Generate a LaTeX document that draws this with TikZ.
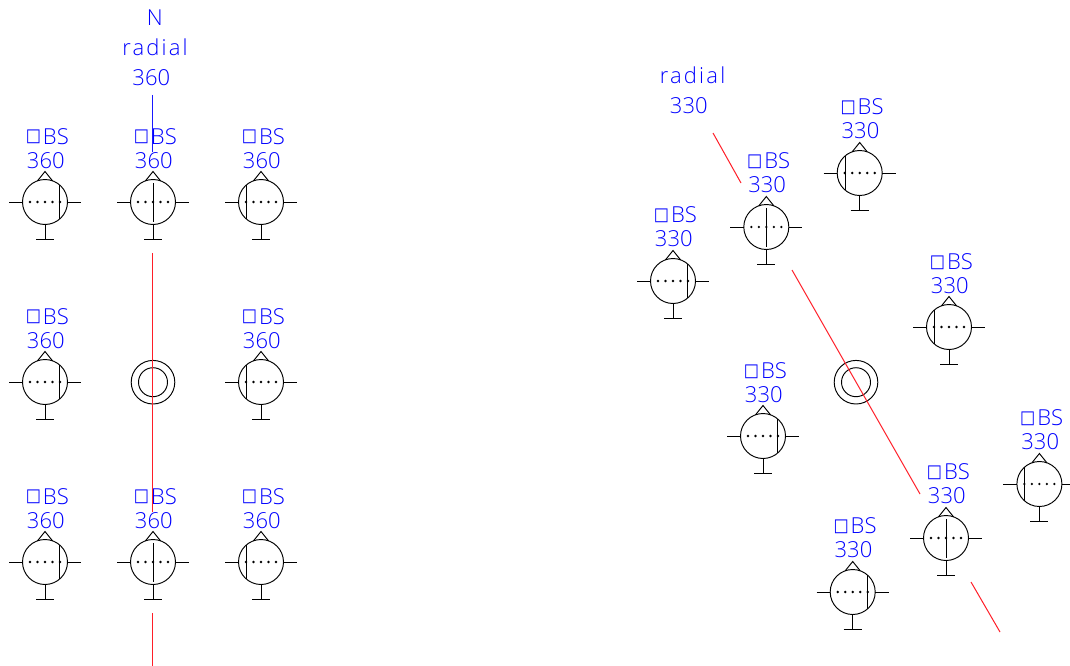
\documentclass[tikz,border=0pt]{standalone}
\usepackage{fontspec}
\usepackage{graphicx}
\setmainfont{Open Sans}[UprightFont=* Light]
\newfontfamily\boxfont{DejaVu Sans}
\definecolor{cadblue}{RGB}{0,0,255}
\definecolor{cadline}{RGB}{25,25,255}
\definecolor{cadred}{RGB}{255,30,40}
\newcommand{\boxglyph}{\raisebox{2.2pt}{\scalebox{.73}[.82]{\boxfont □}}}
\tikzset{
  wire/.style={draw=black,line width=0.95pt},
  redline/.style={draw=cadred,line width=1pt},
  redaxis/.style={draw=cadred,line width=1.5pt},
  blueline/.style={draw=cadline,line width=1.5pt},
  lbl/.style={text=cadblue,font=\fontsize{22}{24}\selectfont,inner sep=0pt,anchor=base},
  lblw/.style={lbl,font=\fontsize{22}{24}\selectfont\addfontfeature{LetterSpace=10}},
}
% #1 name, #2 x, #3 y, #4 chord offset, #5 number, #6 baseline offset of the number
\newcommand{\sym}[6]{%
  \coordinate (#1) at (#2,#3);
  \node[lbl] (#1t) at ([shift={(2.3,#6-24)}]#1) {\boxglyph\kern2pt BS};
  \node[lbl] (#1n) at ([shift={(0.8,#6)}]#1) {#5};
  \draw[wire] (#1) circle[radius=22.5];
  \draw[wire] ([shift={(-36,0)}]#1) -- ([shift={(-22.5,0)}]#1);
  \draw[wire] ([shift={(22.5,0)}]#1) -- ([shift={(36,0)}]#1);
  \draw[wire] ([shift={(0,22.5)}]#1) -- ([shift={(0,37)}]#1);
  \draw[wire] ([shift={(-9,37)}]#1) -- ([shift={(9,37)}]#1);
  \draw[wire] ([shift={(-7.5,-21.2)}]#1) -- ([shift={(0,-30.5)}]#1) -- ([shift={(7.5,-21.2)}]#1);
  \foreach \d in {-15,-7.5,0,7.5,15}
    \fill ([shift={(\d,0)}]#1) circle[radius=1.3];
  \pgfmathsetmacro{\hh}{sqrt(22.5*22.5-(#4)*(#4))}
  \ifdim #4pt=0pt
    \draw[wire] ([shift={(0,-19)}]#1) -- ([shift={(0,20)}]#1);
  \else
    \draw[wire] ([shift={(#4,-\hh)}]#1) -- ([shift={(#4,\hh)}]#1);
  \fi
}
\begin{document}
\begin{tikzpicture}[x=1pt,y=-1pt]
\useasboundingbox (0,0) rectangle (1070,666);
% left group
\sym{la}{45}{202}{14.5}{360}{-33.9}
\sym{lb}{153}{202}{0}{360}{-33.9}
\sym{lc}{261}{202}{-14.5}{360}{-33.9}
\sym{ld}{45}{382}{14.5}{360}{-33.9}
\sym{le}{261}{382}{-14.5}{360}{-33.9}
\sym{lf}{45}{562}{14.5}{360}{-33.9}
\sym{lg}{153}{562}{0}{360}{-33.9}
\sym{lh}{261}{562}{-14.5}{360}{-33.9}
\coordinate (lcentre) at (153,382.2);
\draw[wire] (lcentre) circle[radius=21.8] (lcentre) circle[radius=14.5];
\node[lbl] (ln) at (154.7,26) {N};
\node[lblw] (lr) at (155,56) {radial};
\node[lbl] (l3) at (151.3,86) {360};
\coordinate (lb1) at (152.7,95); \coordinate (lb2) at (152.7,152);
\draw[blueline] (lb1) -- (lb2);
\coordinate (lr1) at (152.7,253); \coordinate (lr2) at (152.7,512);
\coordinate (lr3) at (152.7,613); \coordinate (lr4) at (152.7,666);
\draw[redaxis] (lr1) -- (lr2);
\draw[redaxis] (lr3) -- (lr4);
% right group
\sym{ra}{673}{281}{14.5}{330}{-34.2}
\sym{rb}{766.3}{227}{0}{330}{-34.2}
\sym{rc}{859.7}{173}{-14.5}{330}{-34.2}
\sym{rd}{949}{327}{-14.5}{330}{-33.7}
\sym{re}{763}{436}{14.5}{330}{-33.7}
\sym{rf}{946}{538}{0}{330}{-34.2}
\sym{rg}{1039.4}{484}{-14.5}{330}{-34.2}
\sym{rh}{852.7}{592}{14.5}{330}{-34.2}
\coordinate (rcentre) at (856,382.2);
\draw[wire] (rcentre) circle[radius=21.8] (rcentre) circle[radius=14.5];
\node[lblw] (rr) at (692.5,83.8) {radial};
\node[lbl] (r3) at (688.8,113.3) {330};
\coordinate (s1) at (713,133); \coordinate (s2) at (741,183);
\coordinate (s3) at (792,270); \coordinate (s4) at (920,494);
\coordinate (s5) at (971,582); \coordinate (s6) at (1000,632);
\draw[redline] (s1) -- (s2);
\draw[redline] (s3) -- (s4);
\draw[redline] (s5) -- (s6);
\end{tikzpicture}
\end{document}
